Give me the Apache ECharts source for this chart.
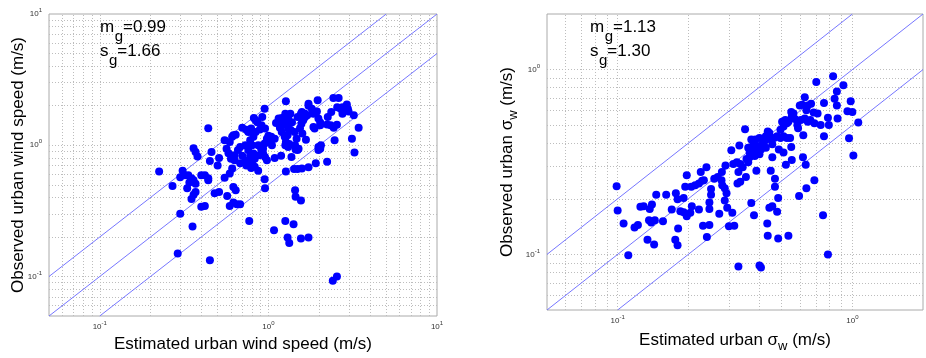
<!DOCTYPE html>
<html><head><meta charset="utf-8">
<script src="https://cdn.jsdelivr.net/npm/echarts@6/dist/echarts.min.js"></script>
<style>html,body{margin:0;padding:0;background:#fff}#c{width:926px;height:358px}</style>
</head><body><div id="c"></div>
<script>
// ---- data ----
const leftPoints = [
[0.225,0.63],[0.27,0.49],[0.30,0.30],[0.29,0.15],[0.355,0.24],[0.45,0.133],[0.44,1.35],[0.31,0.64],[0.32,0.59],[0.30,0.57],
[0.335,0.59],[0.35,0.56],[0.36,0.54],[0.34,0.52],[0.37,0.51],[0.33,0.47],[0.37,0.44],[0.36,0.42],[0.35,0.39],[0.36,0.95],
[0.37,0.89],[0.38,0.82],[0.40,0.59],[0.42,0.59],[0.44,0.54],[0.46,0.89],[0.45,0.76],[0.48,0.43],[0.51,0.44],[0.50,0.70],
[0.51,0.80],[0.40,0.34],[0.42,0.345],[0.44,0.56],[0.55,1.09],[0.565,0.94],[0.58,0.87],[0.61,1.16],[0.62,1.19],[0.64,1.2],
[0.60,0.79],[0.63,0.77],[0.66,0.92],[0.68,0.73],[0.70,0.83],[0.73,0.77],[0.74,0.70],[0.78,0.74],[0.79,0.67],[0.61,0.665],
[0.55,0.565],[0.59,0.61],[0.57,0.41],[0.62,0.48],[0.64,0.455],[0.65,0.355],[0.62,0.367],[0.68,0.355],[0.59,0.345],[0.70,1.36],
[0.76,1.26],[0.78,1.09],[0.79,1.34],[0.82,1.61],[0.84,1.55],[0.86,1.50],[0.89,1.32],[0.91,1.42],[0.92,1.64],[0.95,1.90],
[0.955,1.34],[0.98,1.12],[1.0,1.18],[1.01,1.06],[0.95,1.03],[0.93,0.94],[0.93,0.865],[0.955,0.815],[0.98,0.77],[0.905,0.94],
[0.88,0.84],[0.83,0.83],[0.83,0.79],[0.87,0.64],[0.95,0.55],[0.955,0.47],[1.09,0.80],[1.19,0.83],[1.04,1.16],[1.05,1.0],
[0.87,1.0],[0.80,1.0],[0.76,0.92],[0.73,1.0],[0.815,1.16],[0.84,1.26],[1.11,1.48],[1.15,1.6],[1.17,1.36],[1.2,1.26],
[1.21,1.42],[1.25,1.52],[1.27,2.16],[1.29,1.69],[1.31,1.61],[1.35,1.74],[1.38,1.50],[1.31,1.34],[1.25,1.16],[1.27,1.06],
[1.31,0.97],[1.44,1.0],[1.51,0.94],[1.47,1.12],[1.43,1.26],[1.27,0.63],[1.44,0.455],[1.45,0.405],[1.56,0.38],[1.55,1.64],
[1.58,1.79],[1.65,1.64],[1.73,2.07],[1.81,1.9],[1.85,1.38],[1.67,1.10],[1.94,1.81],[1.96,2.2],[2.03,1.49],[1.98,0.97],
[2.03,0.94],[2.05,1.0],[1.91,0.73],[1.73,0.68],[1.58,0.665],[1.49,0.66],[1.42,0.66],[1.49,0.92],[2.23,1.44],[2.25,1.64],
[2.36,1.79],[2.43,2.29],[2.61,2.29],[2.56,1.95],[2.68,1.9],[2.75,1.74],[2.92,2.04],[2.96,1.9],[2.86,1.88],[2.34,1.42],
[2.44,1.36],[2.47,1.09],[2.23,0.75],[3.13,1.12],[3.24,0.88],[3.21,1.69],[3.43,1.36],[0.77,0.265],[1.08,0.225],[1.26,0.265],
[1.41,0.25],[1.30,0.198],[1.33,0.18],[1.56,0.195],[1.73,0.198],[2.41,0.093],[2.55,0.10],[0.59,1.06],[0.63,0.84],[0.68,0.97],
[0.74,1.31],[0.815,0.865],[0.80,0.75],[0.83,0.685],[0.78,0.84],[1.2,1.61],[1.26,1.74],[1.27,1.50],[1.31,1.43],[1.36,1.30],
[1.49,1.64],[1.56,1.74],[1.65,1.74],[1.61,1.55],[1.57,1.46],[1.54,1.35],[1.59,1.23],[1.45,0.93],[1.33,1.02],[1.26,1.0],
[1.09,1.12],[1.37,0.815],[1.70,1.69],[1.73,2.0],[1.85,1.74],[1.88,1.34],[1.98,1.6],[2.03,1.42],[1.98,0.92],[2.55,1.43],
[2.75,1.95],[2.99,1.81],[1.30,1.19]
];
const rightPoints = [
[0.099,0.234],[0.10,0.173],[0.106,0.147],[0.111,0.099],[0.118,0.14],[0.122,0.144],[0.125,0.181],[0.129,0.182],[0.137,0.176],[0.140,0.186],
[0.136,0.153],[0.139,0.149],[0.144,0.153],[0.134,0.12],[0.143,0.113],[0.146,0.21],[0.161,0.21],[0.156,0.151],[0.170,0.175],[0.177,0.214],
[0.180,0.199],[0.191,0.202],[0.176,0.12],[0.180,0.112],[0.181,0.138],[0.185,0.171],[0.191,0.169],[0.197,0.161],[0.204,0.168],[0.207,0.182],
[0.194,0.232],[0.206,0.232],[0.214,0.237],[0.222,0.242],[0.229,0.250],[0.233,0.252],[0.197,0.268],[0.226,0.279],[0.239,0.296],[0.222,0.175],
[0.231,0.143],[0.246,0.144],[0.240,0.124],[0.246,0.191],[0.246,0.176],[0.250,0.226],[0.250,0.21],[0.258,0.257],[0.267,0.262],[0.277,0.252],
[0.279,0.237],[0.286,0.228],[0.291,0.214],[0.286,0.196],[0.271,0.166],[0.278,0.279],[0.288,0.303],[0.293,0.179],[0.298,0.142],[0.314,0.143],
[0.308,0.168],[0.305,0.366],[0.311,0.308],[0.322,0.315],[0.333,0.308],[0.341,0.296],[0.327,0.279],[0.324,0.242],[0.333,0.247],[0.330,0.389],
[0.349,0.476],[0.352,0.262],[0.354,0.328],[0.360,0.315],[0.365,0.335],[0.371,0.190],[0.381,0.163],[0.390,0.284],
[0.360,0.378],[0.371,0.370],[0.378,0.394],[0.390,0.363],[0.396,0.386],[0.402,0.348],[0.408,0.370],[0.415,0.394],[0.422,0.410],[0.371,0.418],
[0.386,0.418],[0.402,0.427],[0.428,0.436],[0.436,0.462],[0.443,0.454],[0.449,0.418],[0.456,0.394],[0.464,0.427],[0.428,0.378],[0.365,0.356],
[0.384,0.341],
[0.436,0.126],[0.483,0.122],[0.534,0.126],[0.434,0.147],[0.443,0.179],[0.456,0.182],[0.478,0.170],[0.468,0.232],[0.468,0.257],[0.483,0.202],
[0.449,0.284],[0.456,0.335],[0.486,0.370],[0.509,0.356],[0.521,0.306],[0.552,0.324],[0.549,0.381],
[0.478,0.436],[0.494,0.472],[0.509,0.492],[0.526,0.513],[0.534,0.523],[0.552,0.556],[0.561,0.578],[0.549,0.590],[0.569,0.540],[0.494,0.427],
[0.509,0.436],[0.526,0.427],[0.543,0.427],[0.502,0.523],[0.518,0.533],[0.583,0.502],[0.587,0.482],
[0.597,0.640],[0.611,0.645],[0.627,0.708],[0.637,0.603],[0.646,0.640],[0.667,0.653],[0.684,0.586],[0.711,0.578],[0.603,0.533],[0.627,0.544],
[0.646,0.523],[0.662,0.533],[0.689,0.513],[0.733,0.502],[0.618,0.441],[0.616,0.335],[0.633,0.306],[0.637,0.228],[0.689,0.252],[0.593,0.207],
[0.702,0.858],[0.757,0.659],[0.757,0.436],[0.787,0.549],[0.794,0.502],[0.828,0.922],[0.859,0.762],[0.840,0.695],[0.859,0.640],[0.865,0.544],
[0.916,0.823],[0.953,0.595],[0.984,0.675],[1.0,0.590],[0.968,0.425],[1.01,0.343],[1.06,0.517],[0.750,0.163],[0.787,0.10],[0.327,0.086],
[0.402,0.087],[0.408,0.085]
];
// reference lines y = 2x, y = x, y = x/2 (end points of each)
const leftLines = [[[0.05,0.1],[5,10]], [[0.05,0.05],[10,10]], [[0.1,0.05],[10,5]]];
const rightLines = [[[0.05,0.1],[1,2]], [[0.05,0.05],[2,2]], [[0.1,0.05],[2,1]]];
const leftRange = [0.05, 10];
const rightRange = [0.05, 2];
const gridLeft = [0.06,0.07,0.08,0.09,0.1,0.2,0.3,0.4,0.5,0.6,0.7,0.8,0.9,1,2,3,4,5,6,7,8,9];
const gridRight = [0.06,0.07,0.08,0.09,0.1,0.2,0.3,0.4,0.5,0.6,0.7,0.8,0.9,1];
const statsLeft = ['0.99', '1.66'];
const statsRight = ['1.13', '1.30'];

// ---- chart ----
const FONT = 'Liberation Sans, Arial, sans-serif';
const chart = echarts.init(document.getElementById('c'), null, {renderer: 'canvas'});

const mctx = document.createElement('canvas').getContext('2d');
function textW(t, size) { mctx.font = size + 'px ' + FONT; return mctx.measureText(t).width; }

function tickFmt(v) {
  const l = Math.log10(v), e = Math.round(l);
  if (Math.abs(l - e) > 1e-6) return '';
  return '{b|10}{e|' + e + '}';
}
const tickRich = {
  b: {fontSize: 8, fontFamily: FONT, color: '#333'},
  e: {fontSize: 6, fontFamily: FONT, color: '#333', padding: [0, 0, 7, 0]}
};
function logAxis(gi, range, name, gap, isY, rich) {
  return {
    type: 'log', logBase: 10, gridIndex: gi, min: range[0], max: range[1],
    name: name, nameLocation: 'middle', nameGap: gap, nameMoveOverlap: false,
    nameTextStyle: rich ? {rich: rich, fontFamily: FONT, color: '#000'} : {fontSize: 17, fontFamily: FONT, color: '#000'},
    axisLine: {show: false}, axisTick: {show: false}, splitLine: {show: false},
    axisLabel: {interval: 0, formatter: tickFmt, rich: tickRich, margin: isY ? 7 : 4}
  };
}
const subRich = {
  a: {fontSize: 17, fontFamily: FONT, color: '#000'},
  s: {fontSize: 13, fontFamily: FONT, color: '#000', padding: [12, 0, 0, 0]}
};
const gridLineStyle = {color: '#bdbdbd', width: 1, type: [1, 2]};
function gridSeries(i, vals) {
  return {
    type: 'line', xAxisIndex: i, yAxisIndex: i, data: [], z: 1, silent: true,
    markLine: {
      z: 1, silent: true, symbol: 'none', label: {show: false}, animation: false,
      lineStyle: gridLineStyle,
      data: vals.map(v => ({xAxis: v})).concat(vals.map(v => ({yAxis: v})))
    }
  };
}
function lineSeries(i, pts) {
  return {
    type: 'line', xAxisIndex: i, yAxisIndex: i, data: pts, symbol: 'none', z: 2,
    lineStyle: {color: '#7676ff', width: 1}, silent: true, animation: false
  };
}
function scatterSeries(i, pts) {
  return {
    type: 'scatter', xAxisIndex: i, yAxisIndex: i, data: pts, symbolSize: 8, z: 3,
    itemStyle: {color: '#0000ff', opacity: 1, borderWidth: 0}, animation: false
  };
}
// m_g / s_g annotations: main letter, subscript g, then "=value"
function statTexts(x, yMid, letter, val) {
  const w1 = textW(letter, 17), w2 = textW('g', 15);
  const base = {fontFamily: FONT, fill: '#000', align: 'left', verticalAlign: 'middle'};
  return [
    {type: 'text', x: x, y: yMid, z: 10, style: Object.assign({text: letter, fontSize: 17}, base)},
    {type: 'text', x: x + w1 + 0.5, y: yMid + 10, z: 10, style: Object.assign({text: 'g', fontSize: 15}, base)},
    {type: 'text', x: x + w1 + w2 + 0.5, y: yMid, z: 10, style: Object.assign({text: '=' + val, fontSize: 17}, base)}
  ];
}

const series = [gridSeries(0, gridLeft), gridSeries(1, gridRight)];
leftLines.forEach(l => series.push(lineSeries(0, l)));
rightLines.forEach(l => series.push(lineSeries(1, l)));
series.push(scatterSeries(0, leftPoints));
series.push(scatterSeries(1, rightPoints));

chart.setOption({
  animation: false,
  backgroundColor: '#fff',
  grid: [
    {left: 49, top: 14, width: 388, height: 304, show: true, borderColor: '#aaa', borderWidth: 1, backgroundColor: 'transparent'},
    {left: 547, top: 14, width: 389, height: 303, show: true, borderColor: '#aaa', borderWidth: 1, backgroundColor: 'transparent'}
  ],
  xAxis: [
    logAxis(0, leftRange, 'Estimated urban wind speed (m/s)', 20, false),
    logAxis(1, rightRange, '{a|Estimated urban σ}{s|w}{a| (m/s)}', 18, false, subRich)
  ],
  yAxis: [
    logAxis(0, leftRange, 'Observed urban wind speed (m/s)', 22, true),
    logAxis(1, rightRange, '{a|Observed urban σ}{s|w}{a| (m/s)}', 27, true, subRich)
  ],
  graphic: [].concat(
    statTexts(100, 27, 'm', statsLeft[0]),
    statTexts(100, 51, 's', statsLeft[1]),
    statTexts(590, 27, 'm', statsRight[0]),
    statTexts(590, 51, 's', statsRight[1])
  ),
  series: series
});
</script>
</body></html>
